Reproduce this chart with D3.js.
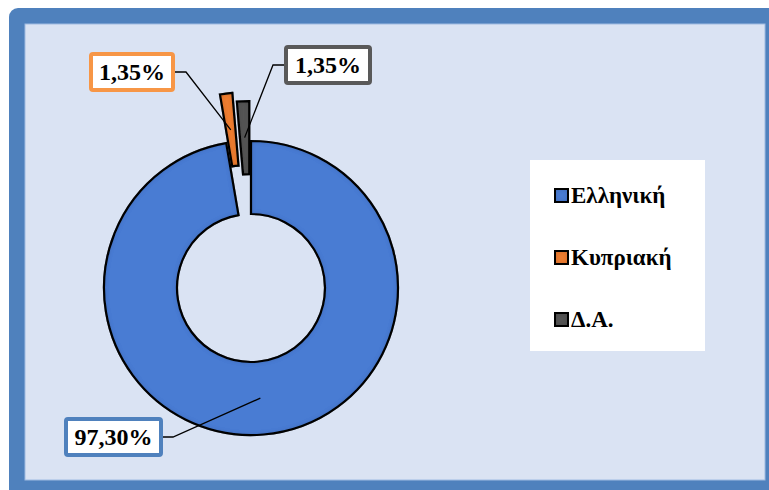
<!DOCTYPE html>
<html><head><meta charset="utf-8">
<script src="https://cdn.jsdelivr.net/npm/d3@7"></script>
<style>body{margin:0;background:#fff}svg{display:block}</style>
</head><body><svg id="c" width="769" height="490"></svg>
<script>
// ---- data ----
const categories = ["Ελληνική", "Κυπριακή", "Δ.Α."];
const values = [97.30, 1.35, 1.35];
const labels = ["97,30%", "1,35%", "1,35%"];
const colors = ["#4A7CD3", "#ED7D31", "#555555"];
const boxColors = ["#4F81BD", "#F79646", "#595959"];

// ---- layout ----
const W = 769, H = 490;
const cx = 251, cy = 288, rOuter = 147, rInner = 74;
const explode = [0, 49, 40];
// label boxes: [x, y, w, h, elbowX]
const boxes = [[64, 417, 99, 40, 173], [89, 52, 86, 40, 186], [284, 45, 88, 40, 273]];
const FONT = "'Liberation Serif','Times New Roman',serif";

const svg = d3.select("#c");
const defs = svg.append("defs");
const f = defs.append("filter").attr("id", "inner").attr("x", "-20%").attr("y", "-20%").attr("width", "140%").attr("height", "140%");
f.append("feFlood").attr("flood-color", "#000").attr("flood-opacity", 0.8).attr("result", "fl");
f.append("feComposite").attr("in", "fl").attr("in2", "SourceAlpha").attr("operator", "out").attr("result", "outside");
f.append("feGaussianBlur").attr("in", "outside").attr("stdDeviation", 2.4).attr("result", "ob");
f.append("feComposite").attr("in", "ob").attr("in2", "SourceAlpha").attr("operator", "in").attr("result", "shadow");
const fm = f.append("feMerge");
fm.append("feMergeNode").attr("in", "SourceGraphic");
fm.append("feMergeNode").attr("in", "shadow");

// frame
svg.append("rect").attr("x", 9).attr("y", 8).attr("width", W).attr("height", H).attr("rx", 9).attr("fill", "#4F81BD");
svg.append("rect").attr("x", 25).attr("y", 24).attr("width", 740).attr("height", 456)
  .attr("fill", "#DAE3F3").attr("stroke", "#9FBBE2").attr("stroke-width", 1);

// pie
const pie = d3.pie().sort(null).value(d => d)(values);
const arc = d3.arc().innerRadius(rInner).outerRadius(rOuter);
const offset = (d, i) => {
  const m = (d.startAngle + d.endAngle) / 2;
  return [Math.sin(m) * explode[i], -Math.cos(m) * explode[i]];
};
const g = svg.append("g").attr("transform", `translate(${cx},${cy})`);
g.selectAll("path").data(pie).join("path")
  .attr("d", arc)
  .attr("transform", (d, i) => { const o = offset(d, i); return `translate(${o[0]},${o[1]})`; })
  .attr("fill", (d, i) => colors[i])
  .attr("stroke", "#0a0a0a").attr("stroke-width", 2.2).attr("stroke-linejoin", "miter")
  .attr("filter", "url(#inner)");

// leader lines + label boxes
pie.forEach((d, i) => {
  const c = arc.centroid(d), o = offset(d, i);
  const px = cx + c[0] + o[0], py = cy + c[1] + o[1];
  const [bx, by, bw, bh, ex] = boxes[i];
  const my = by + bh / 2;
  const sx = ex > bx ? bx + bw : bx;
  svg.append("polyline")
    .attr("points", `${sx},${my} ${ex},${my} ${px},${py}`)
    .attr("fill", "none").attr("stroke", "#000").attr("stroke-width", 1.3);
  svg.append("rect").attr("x", bx + 2).attr("y", by + 2).attr("width", bw - 4).attr("height", bh - 4)
    .attr("rx", 2).attr("fill", "#fff").attr("stroke", boxColors[i]).attr("stroke-width", 4);
  svg.append("text").attr("x", bx + bw / 2).attr("y", by + 28)
    .attr("text-anchor", "middle").attr("font-family", FONT).attr("font-weight", "bold")
    .attr("font-size", 24).attr("fill", "#000").text(labels[i]);
});

// legend
svg.append("rect").attr("x", 530).attr("y", 160).attr("width", 175).attr("height", 191).attr("fill", "#fff");
const lg = svg.append("g");
categories.forEach((c, i) => {
  const base = 203 + i * 62;
  lg.append("rect").attr("x", 555).attr("y", base - 14).attr("width", 13).attr("height", 13)
    .attr("fill", colors[i]).attr("stroke", "#111").attr("stroke-width", 2).attr("filter", "url(#inner)");
  lg.append("text").attr("x", 571).attr("y", base).attr("font-family", FONT).attr("font-weight", "bold")
    .attr("font-size", 23).attr("fill", "#000").text(c);
});
</script></body></html>
